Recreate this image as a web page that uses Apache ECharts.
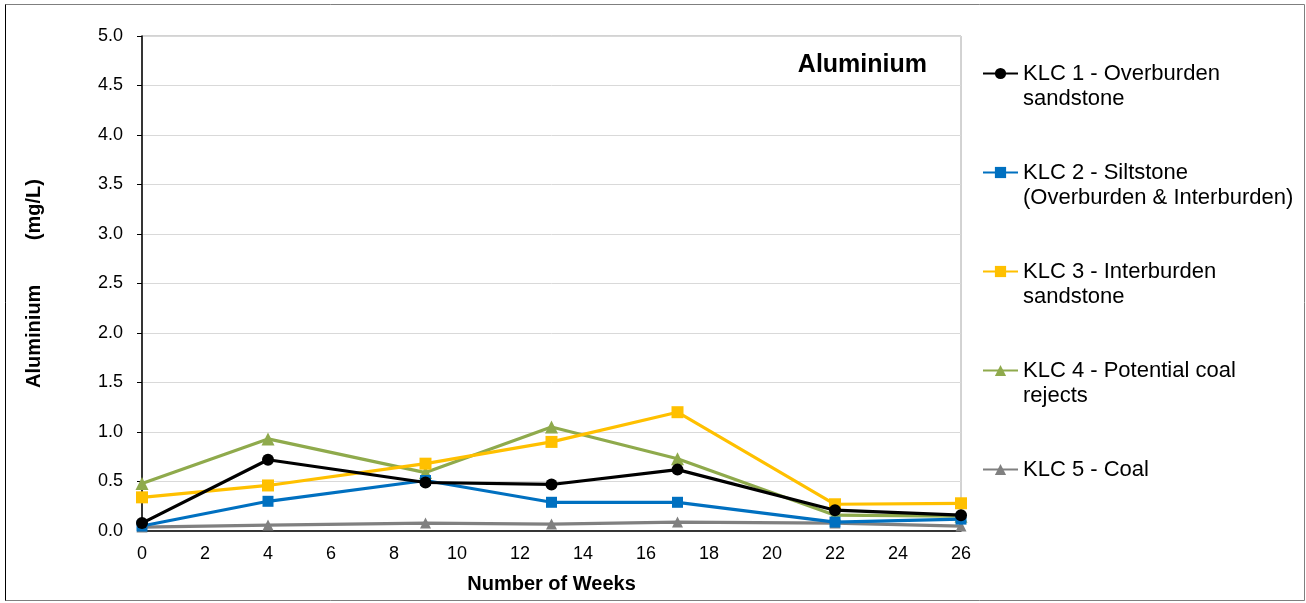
<!DOCTYPE html>
<html>
<head>
<meta charset="utf-8">
<script src="https://cdn.jsdelivr.net/npm/echarts@6/dist/echarts.min.js"></script>
<style>
  html, body { margin: 0; padding: 0; background: #fff; }
  #chart { width: 1306px; height: 603px; }
</style>
</head>
<body>
<div id="chart"></div>
<script>
// weeks sampled
const weeks = [0, 4, 9, 13, 17, 22, 26]
const yTicks = [0, 0.5, 1, 1.5, 2, 2.5, 3, 3.5, 4, 4.5, 5]

const klc1 = [0.08, 0.72, 0.49, 0.47, 0.62, 0.21, 0.16]
const klc2 = [0.05, 0.30, 0.51, 0.29, 0.29, 0.09, 0.12]
const klc3 = [0.34, 0.46, 0.68, 0.90, 1.20, 0.27, 0.28]
const klc4 = [0.48, 0.93, 0.59, 1.05, 0.73, 0.16, 0.15]
const klc5 = [0.04, 0.06, 0.08, 0.07, 0.09, 0.08, 0.05]

const seriesNames = [
    'KLC 1 - Overburden\nsandstone',
    'KLC 2 - Siltstone\n(Overburden & Interburden)',
    'KLC 3 - Interburden\nsandstone',
    'KLC 4 - Potential coal\nrejects',
    'KLC 5 - Coal'
]
const colorList = ['#000000', '#0070c0', '#ffc000', '#8faa4c', '#808080']
const symbols = ['circle', 'rect', 'rect', 'triangle', 'triangle']
const symbolSizes = [12, 11, 12, 13, 11]
const allData = [klc1, klc2, klc3, klc4, klc5]

const font = 'Liberation Sans, Arial, sans-serif'

function pairs (values) {
    return weeks.map((w, i) => [w, values[i]])
}

// keep the legend symbol level with the first text line
function legendLabel (name) {
    return name.indexOf('\n') >= 0 ? ' \n' + name : ' \n' + name + '\n '
}

const chart = echarts.init(document.getElementById('chart'), null, { renderer: 'canvas' })

const option = {
    animation: false,
    color: colorList,
    textStyle: { fontFamily: font },
    title: {
        text: 'Aluminium',
        right: 374,
        top: 48,
        textStyle: { fontSize: 25, fontWeight: 'bold', color: '#000', fontFamily: font }
    },
    legend: {
        orient: 'vertical',
        left: 982,
        top: 36,
        padding: 0,
        itemGap: 24,
        itemWidth: 35,
        itemHeight: 14,
        formatter: legendLabel,
        data: seriesNames,
        textStyle: {
            fontSize: 22,
            color: '#000',
            lineHeight: 25,
            fontFamily: font
        }
    },
    grid: {
        left: 142,
        right: 345,
        top: 36,
        bottom: 72,
        show: true,
        borderColor: '#a6a6a6',
        borderWidth: 1
    },
    xAxis: {
        type: 'value',
        min: 0,
        max: 26,
        interval: 2,
        name: 'Number of Weeks',
        nameLocation: 'middle',
        nameGap: 43,
        nameTextStyle: { fontSize: 20, fontWeight: 'bold', color: '#000', fontFamily: font },
        axisLine: { show: true, onZero: false, lineStyle: { color: '#000', width: 1.5 } },
        axisTick: { show: false },
        axisLabel: { fontSize: 18, color: '#000', margin: 14, fontFamily: font },
        splitLine: { show: false }
    },
    yAxis: {
        type: 'value',
        min: yTicks[0],
        max: yTicks[yTicks.length - 1],
        interval: 0.5,
        name: 'Aluminium        (mg/L)',
        nameLocation: 'middle',
        nameGap: 98,
        nameTextStyle: { fontSize: 20, fontWeight: 'bold', color: '#000', fontFamily: font },
        axisLine: { show: true, lineStyle: { color: '#000', width: 1.5 } },
        axisTick: { show: true, inside: false, length: 5, lineStyle: { color: '#000' } },
        axisLabel: {
            fontSize: 18,
            color: '#000',
            margin: 19,
            fontFamily: font,
            formatter: v => v.toFixed(1)
        },
        splitLine: { show: true, lineStyle: { color: '#d9d9d9', width: 1 } }
    },
    graphic: [
        {
            type: 'rect',
            shape: { x: 5.5, y: 4.5, width: 1299, height: 596 },
            style: { fill: 'none', stroke: '#7f7f7f', lineWidth: 1 },
            silent: true
        },
        {
            type: 'line',
            shape: { x1: 5.5, y1: 4.5, x2: 5.5, y2: 600.5 },
            style: { stroke: '#000', lineWidth: 1 },
            silent: true
        }
    ],
    series: allData.map((d, i) => ({
        name: seriesNames[i],
        type: 'line',
        data: pairs(d),
        symbol: symbols[i],
        symbolSize: symbolSizes[i],
        showAllSymbol: true,
        z: 10 - i,
        lineStyle: { width: 3.2, color: colorList[i] },
        itemStyle: { color: colorList[i] }
    }))
}

chart.setOption(option)
</script>
</body>
</html>
